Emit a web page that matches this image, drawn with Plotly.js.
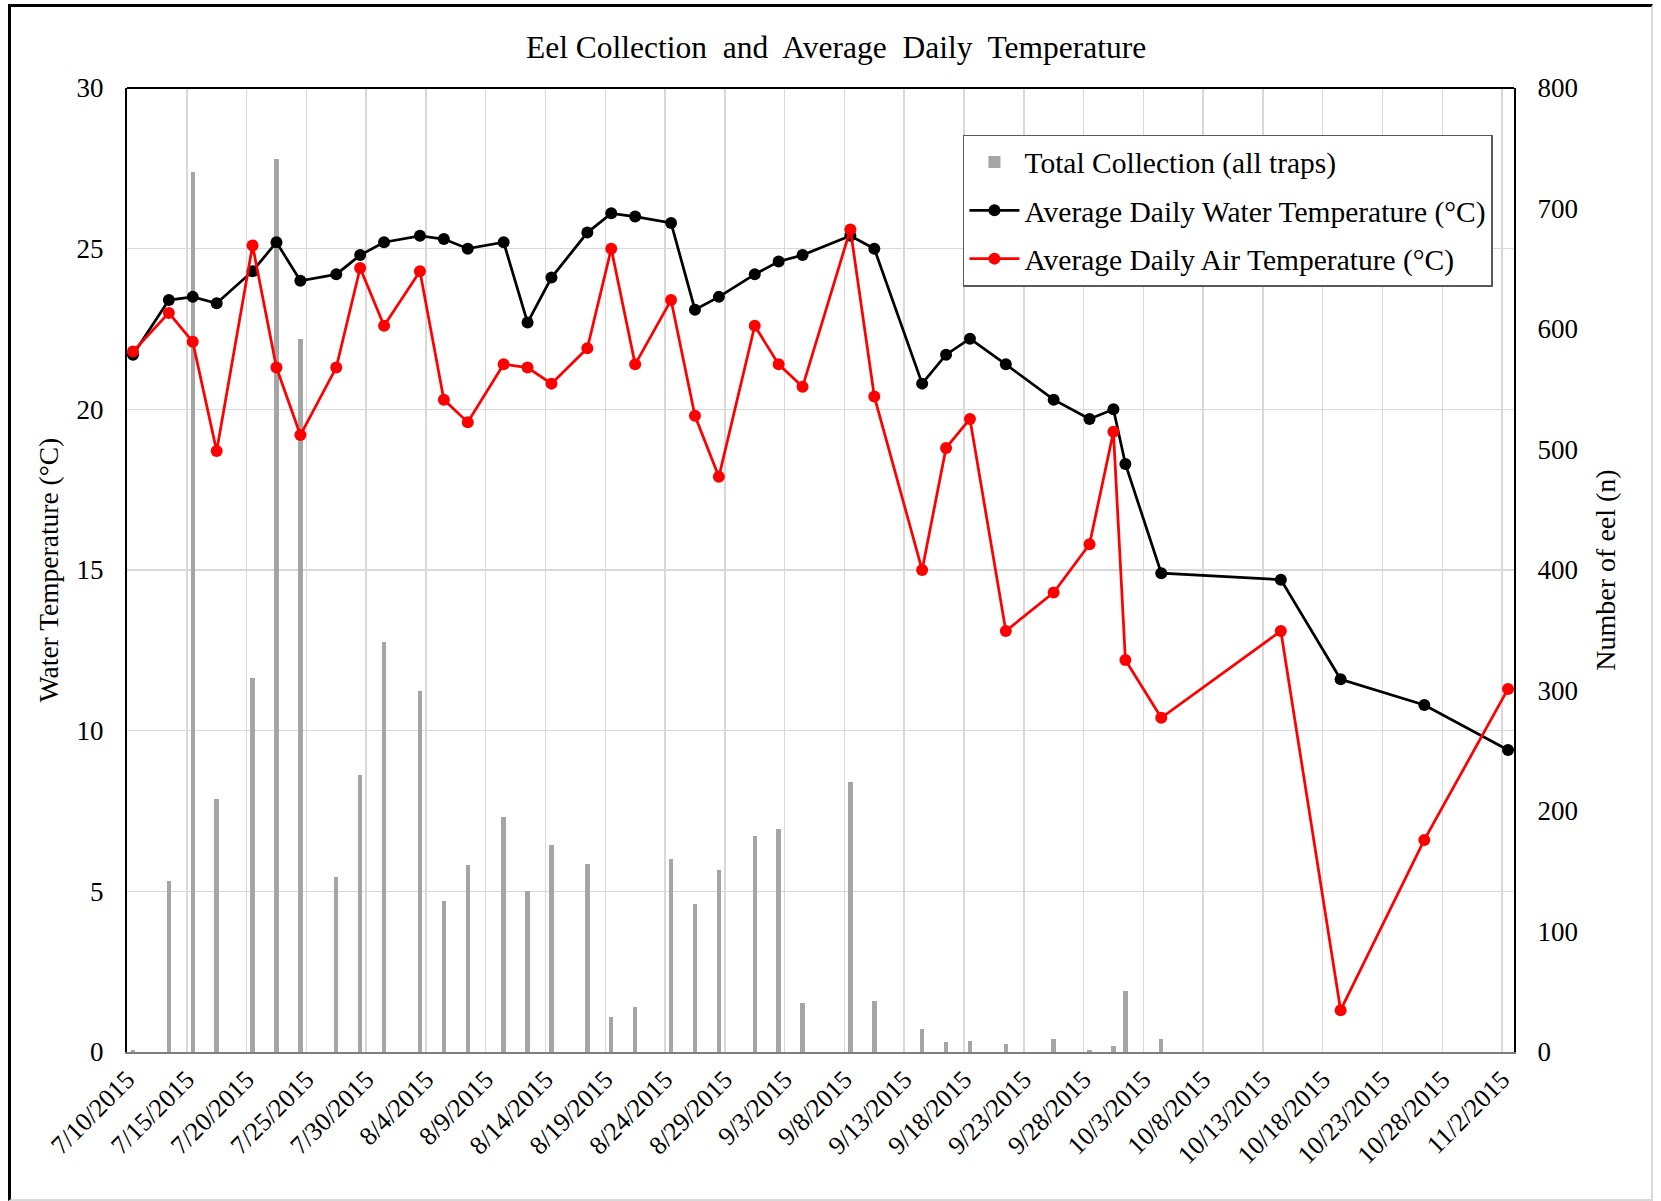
<!DOCTYPE html>
<html>
<head>
<meta charset="utf-8">
<script src="https://cdn.plot.ly/plotly-3.0.1.min.js"></script>
<style>
  html, body { margin: 0; padding: 0; background: #ffffff; }
  #wrap { position: relative; width: 1661px; height: 1201px; }
  #chart { position: absolute; left: 0; top: 0; width: 1661px; height: 1201px; }
  #frame { position: absolute; left: 8px; top: 4px; width: 1640px; height: 1192px;
           border-left: 3px solid #000; border-top: 3px solid #000;
           border-right: 2px solid #d9d9d9; border-bottom: 2px solid #d9d9d9;
           pointer-events: none; }
</style>
</head>
<body>
<div id="wrap">
  <div id="chart"></div>
  <div id="frame"></div>
</div>
<script>
// Sampling dates
const dates = [
  '2015-07-10','2015-07-13','2015-07-15','2015-07-17','2015-07-20','2015-07-22','2015-07-24',
  '2015-07-27','2015-07-29','2015-07-31','2015-08-03','2015-08-05','2015-08-07','2015-08-10',
  '2015-08-12','2015-08-14','2015-08-17','2015-08-19','2015-08-21','2015-08-24','2015-08-26',
  '2015-08-28','2015-08-31','2015-09-02','2015-09-04','2015-09-08','2015-09-10','2015-09-14',
  '2015-09-16','2015-09-18','2015-09-21','2015-09-25','2015-09-28','2015-09-30','2015-10-01',
  '2015-10-04','2015-10-14','2015-10-19','2015-10-26','2015-11-02'
];
// Total eel collection (all traps), number of eel
const eelCount = [
  2, 142, 730, 210, 310, 741, 592,
  145, 230, 340, 300, 125, 155, 195,
  134, 172, 156, 29, 37, 160, 123,
  151, 179, 185, 41, 224, 42, 19,
  8, 9, 7, 11, 2, 5, 51,
  11, 0, 0, 0, 0
];
// Average daily water temperature (°C)
const waterTemp = [
  21.7, 23.4, 23.5, 23.3, 24.3, 25.2, 24.0,
  24.2, 24.8, 25.2, 25.4, 25.3, 25.0, 25.2,
  22.7, 24.1, 25.5, 26.1, 26.0, 25.8, 23.1,
  23.5, 24.2, 24.6, 24.8, 25.4, 25.0, 20.8,
  21.7, 22.2, 21.4, 20.3, 19.7, 20.0, 18.3,
  14.9, 14.7, 11.6, 10.8, 9.4
];
// Average daily air temperature (°C)
const airTemp = [
  21.8, 23.0, 22.1, 18.7, 25.1, 21.3, 19.2,
  21.3, 24.4, 22.6, 24.3, 20.3, 19.6, 21.4,
  21.3, 20.8, 21.9, 25.0, 21.4, 23.4, 19.8,
  17.9, 22.6, 21.4, 20.7, 25.6, 20.4, 15.0,
  18.8, 19.7, 13.1, 14.3, 15.8, 19.3, 12.2,
  10.4, 13.1, 1.3, 6.6, 11.3
];
const seriesNames = [
  'Total Collection (all traps)',
  'Average Daily Water Temperature (°C)',
  'Average Daily Air Temperature (°C)'
];
const chartTitle = 'Eel Collection\u00a0 and\u00a0 Average\u00a0 Daily\u00a0 Temperature';

// Excel date axis places each day's value in the middle of its day slot
const xMid = dates.map(d => d + ' 12:00');
const DAY = 86400000;
const FONT = 'Liberation Serif, Times New Roman, serif';

const traces = [
  {
    type: 'bar', name: seriesNames[0], x: xMid, y: eelCount,
    yaxis: 'y', xaxis: 'x', width: 0.37 * DAY,
    marker: { color: '#a5a5a5', line: { width: 0 } },
    legendgroup: 'g1', hoverinfo: 'x+y'
  },
  {
    type: 'scatter', mode: 'lines+markers', name: seriesNames[1], x: xMid, y: waterTemp,
    yaxis: 'y2', xaxis: 'x',
    line: { color: '#000000', width: 2.75 },
    marker: { color: '#000000', size: 12 },
    legendgroup: 'g2'
  },
  {
    type: 'scatter', mode: 'lines+markers', name: seriesNames[2], x: xMid, y: airTemp,
    yaxis: 'y2', xaxis: 'x',
    line: { color: '#ff0000', width: 2.75 },
    marker: { color: '#ff0000', size: 12 },
    legendgroup: 'g3'
  }
];

const layout = {
  width: 1661, height: 1201,
  paper_bgcolor: 'rgba(0,0,0,0)', plot_bgcolor: '#ffffff',
  margin: { l: 127, r: 147, t: 88, b: 149, pad: 0 },
  font: { family: FONT, color: '#000000', size: 27 },
  title: {
    text: chartTitle,
    font: { family: FONT, size: 31.5, color: '#000000' },
    xref: 'container', x: 0.5034, xanchor: 'center',
    yref: 'container', y: 0.9605, yanchor: 'middle'
  },
  showlegend: true,
  legend: {
    x: 0.6027, y: 0.9515, xanchor: 'left', yanchor: 'top',
    bgcolor: '#ffffff', bordercolor: '#595959', borderwidth: 1.5,
    font: { family: FONT, size: 29.5, color: '#000000' },
    traceorder: 'grouped', tracegroupgap: 7, itemwidth: 50
  },
  bargap: 0,
  xaxis: {
    type: 'date',
    range: ['2015-07-10', '2015-11-03'],
    tick0: '2015-07-10', dtick: 5 * DAY,
    tickformat: '%-m/%-d/%Y', tickangle: -45,
    tickfont: { family: FONT, size: 26, color: '#000000' },
    showgrid: true, gridcolor: '#d9d9d9', gridwidth: 1.5,
    showline: true, linecolor: '#7f7f7f', linewidth: 2, mirror: false,
    ticks: '', zeroline: false, fixedrange: true
  },
  yaxis: {
    range: [0, 800], dtick: 100, side: 'right', anchor: 'x',
    showgrid: false, zeroline: false,
    showline: true, linecolor: '#000000', linewidth: 2,
    ticks: '', ticklabelstandoff: 16,
    tickfont: { family: FONT, size: 27, color: '#000000' },
    title: { text: 'Number of eel (n)', font: { family: FONT, size: 28, color: '#000000' }, standoff: 18 },
    fixedrange: true
  },
  yaxis2: {
    range: [0, 30], dtick: 5, side: 'left', overlaying: 'y', anchor: 'x',
    showgrid: true, gridcolor: '#d9d9d9', gridwidth: 1.5, zeroline: false,
    showline: true, linecolor: '#000000', linewidth: 2,
    ticks: '', ticklabelstandoff: 16,
    tickfont: { family: FONT, size: 27, color: '#000000' },
    title: { text: 'Water Temperature (°C)', font: { family: FONT, size: 27.5, color: '#000000' }, standoff: 10 },
    fixedrange: true
  },
  shapes: [
    { type: 'line', xref: 'paper', yref: 'paper', x0: 0, x1: 1, y0: 1, y1: 1,
      line: { color: '#000000', width: 2 } }
  ]
};

Plotly.newPlot('chart', traces, layout, { displayModeBar: false, staticPlot: true });
</script>
</body>
</html>
